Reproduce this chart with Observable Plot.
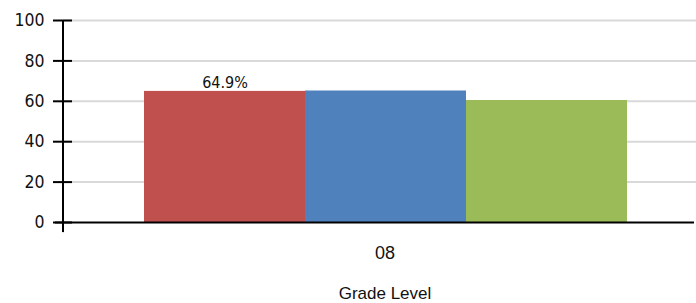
<!DOCTYPE html>
<html>
<head>
<meta charset="utf-8">
<script src="https://cdn.jsdelivr.net/npm/d3@7"></script>
<script src="https://cdn.jsdelivr.net/npm/@observablehq/plot@0.6"></script>
<style>
  html, body { margin: 0; padding: 0; background: #fff; }
  #chart svg { display: block; }
  #chart [aria-label^="y-axis"] text { font-family: "DejaVu Sans Condensed"; font-size: 17.5px; fill: #111; }
  #chart [aria-label^="y-axis"] path, #chart [aria-label^="y-axis"] line { stroke: #000; stroke-width: 2px; stroke-opacity: 1; }
</style>
</head>
<body>
<div id="chart"></div>
<script>
const grades = ["08"];
const series = ["Series A", "Series B", "Series C"];
const values = [64.9, 65.1, 60.4];
const valueLabels = ["64.9%", null, null];
const colors = ["#c0504d", "#4f81bd", "#9bbb59"];
const yTicks = [0, 20, 40, 60, 80, 100];
const axisTitle = "Grade Level";

const data = series.map((s, i) => ({series: s, value: values[i], label: valueLabels[i], grade: grades[0]}));

const W = 696, ML = 63;

const chart = Plot.plot({
  width: W,
  height: 303,
  marginLeft: ML,
  marginRight: 0,
  marginTop: 20,
  marginBottom: 81,
  style: {background: "#fff"},
  x: {domain: series, range: [143, 627], padding: 0, axis: null},
  y: {domain: [0, 100], ticks: yTicks, tickSize: 10, tickPadding: 9, label: null},
  color: {domain: series, range: colors},
  marks: [
    Plot.ruleY(yTicks.filter(d => d > 0), {stroke: "#d9d9d9", strokeWidth: 2}),
    Plot.barY(data, {x: "series", y: "value", fill: "series"}),
    Plot.text(data.filter(d => d.label), {x: "series", y: "value", text: "label", dy: -9,
      fontFamily: "DejaVu Sans Condensed", fontSize: 16, fill: "#111"}),
    // right-hand part of the crossing y ticks
    Plot.ruleY(yTicks, {stroke: "#000", strokeWidth: 2, insetRight: W - ML - 9}),
    // x axis baseline
    Plot.ruleY([0], {strokeWidth: 2, stroke: "#000", insetLeft: -8, insetRight: 2}),
    // y axis line, extending below zero
    Plot.rect([0], {y1: -5, y2: 100, fill: "#000", insetLeft: -1, insetRight: W - ML - 1}),
    Plot.text(grades, {text: d => d, frameAnchor: "bottom", dy: 31, dx: 5, lineAnchor: "middle",
      fontFamily: "Liberation Sans", fontSize: 18, fill: "#111"}),
    Plot.text([axisTitle], {text: d => d, frameAnchor: "bottom", dy: 71, dx: 5, lineAnchor: "middle",
      fontFamily: "Liberation Sans", fontSize: 17, fill: "#111"})
  ]
});
document.getElementById("chart").appendChild(chart);
</script>
</body>
</html>
